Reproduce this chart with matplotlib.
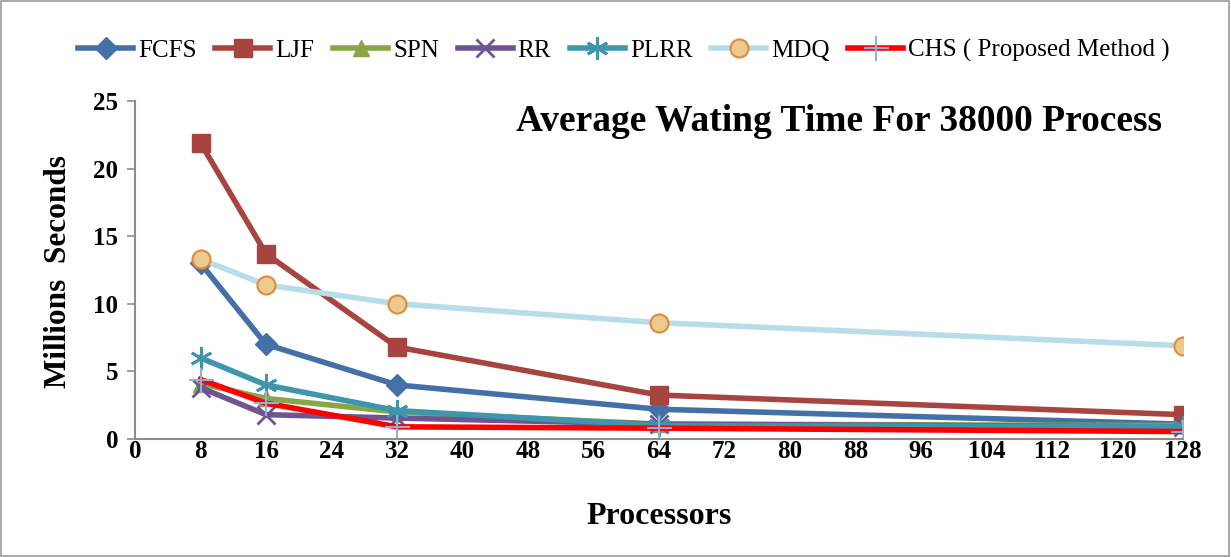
import matplotlib.pyplot as plt
from matplotlib.patches import Rectangle

processors = [8, 16, 32, 64, 128]
fcfs = [13.0, 7.0, 4.0, 2.2, 1.1]
ljf = [21.9, 13.7, 6.8, 3.25, 1.8]
spn = [4.1, 3.0, 2.0, 1.1, 1.0]
rr = [3.8, 1.8, 1.55, 1.1, 0.9]
plrr = [6.0, 4.0, 2.1, 1.0, 0.9]
mdq = [13.3, 11.4, 10.0, 8.6, 6.9]
chs = [4.4, 2.65, 0.9, 0.8, 0.55]

x_ticks = list(range(0, 129, 8))
y_ticks = [0, 5, 10, 15, 20, 25]

plt.rcParams["font.family"] = ["Liberation Serif", "DejaVu Serif"]

fig = plt.figure(figsize=(12.31, 5.57), dpi=100)
ax = fig.add_axes([135 / 1231, 1 - 439 / 557, (1183 - 135) / 1231, (439 - 101) / 557])

fig.patches.append(Rectangle((0.001, 0.001), 0.997, 0.997, transform=fig.transFigure,
                             fill=False, edgecolor="#9a9a9a", linewidth=1.2))

series = [
    ("FCFS", fcfs, dict(color="#4470a8", marker="D", ms=11, mfc="#4470a8", mec="#4470a8")),
    ("LJF", ljf, dict(color="#a84440", marker="s", ms=13, mfc="#a84440", mec="#a84440")),
    ("SPN", spn, dict(color="#87a64a", marker="^", ms=12, mfc="#87a64a", mec="#87a64a")),
    ("RR", rr, dict(color="#6e5492", marker="x", ms=13, mew=2, mec="#6e5492")),
    ("PLRR", plrr, dict(color="#3d96ac", marker=(6, 2, 0), ms=16, mew=2, mec="#3d96ac")),
    ("MDQ", mdq, dict(color="#b7dde8", marker="o", ms=13, mfc="#ecc98c", mec="#e08a3a", mew=1.5)),
    ("CHS ( Proposed Method )", chs, dict(color="#ff0000", marker="+", ms=18, mew=1.5, mec="#95b0d8")),
]

for name, vals, style in series:
    ax.plot(processors, vals, label=name, lw=4, **style)

ax.set_xlim(0, 128)
ax.set_ylim(0, 25)
ax.set_xticks(x_ticks)
ax.set_yticks(y_ticks)
ax.tick_params(axis="y", labelsize=18, direction="out", length=6, color="#8c8c8c", width=1.2, pad=6)
ax.tick_params(axis="x", labelsize=18, direction="out", length=0, pad=1)
for lbl in ax.get_xticklabels() + ax.get_yticklabels():
    lbl.set_fontweight("bold")
ax.spines["top"].set_visible(False)
ax.spines["right"].set_visible(False)
for s in ("left", "bottom"):
    ax.spines[s].set_color("#8c8c8c")
    ax.spines[s].set_linewidth(1.5)
ax.set_clip_on(False)

ax.set_xlabel("Processors", fontsize=23, fontweight="bold")
ax.xaxis.set_label_coords(0.5, -0.185)
ax.set_ylabel("Millions  Seconds", fontsize=22.5, fontweight="bold")
ax.yaxis.set_label_coords(-0.059, 0.495)

ax.text(0.98, 0.94, "Average Wating Time For 38000 Process", transform=ax.transAxes,
        ha="right", va="center", fontsize=27, fontweight="bold")

fig.legend(loc="upper center", bbox_to_anchor=(0.507, 0.97), ncol=7, frameon=False,
           fontsize=18, handlelength=2.2, handletextpad=0.2, columnspacing=0.75)

fig.savefig("out.png", dpi=100)
